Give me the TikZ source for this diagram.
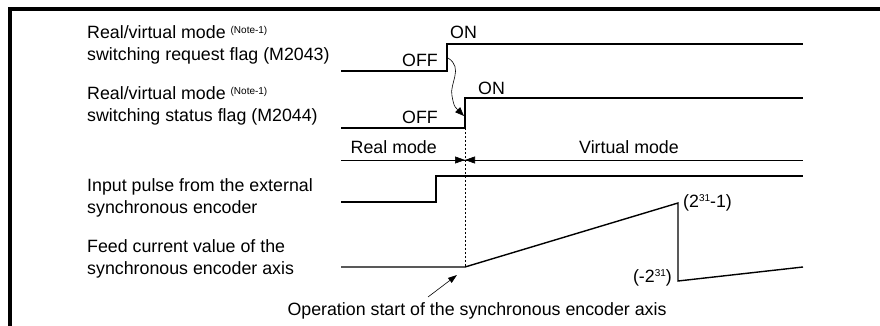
\documentclass[tikz,border=0pt]{standalone}
\usepackage{fontspec}
\setmainfont{Liberation Sans}
\usetikzlibrary{arrows.meta}
\newcommand{\notesup}{{\fontsize{10}{10}\selectfont\raisebox{5pt}{(Note-1)}}}
\newcommand{\smallsup}[1]{{\fontsize{10}{10}\selectfont\raisebox{6pt}{#1}}}
\begin{document}
\begin{tikzpicture}[x=1pt,y=-1pt,
  font=\fontsize{17.8}{22}\selectfont,
  sig/.style={line width=1.4pt},
  txt/.style={inner sep=0pt},
  lbl/.style={inner sep=0pt, anchor=west, align=left},
  tip/.style={-{Triangle[length=9pt,width=7pt]}}]
\useasboundingbox (0,0) rectangle (880,326);
% frame
\draw[line width=4pt] (880,9) -- (10,9) -- (10,326);
% left labels
\node[lbl] (l1) at (87,45) {Real/virtual mode \notesup\\switching request flag (M2043)};
\node[lbl] (l2) at (87,106) {Real/virtual mode \notesup\\switching status flag (M2044)};
\node[lbl] (l3) at (87,198) {Input pulse from the external\\synchronous encoder};
\node[lbl] (l4) at (87,259) {Feed current value of the\\synchronous encoder axis};
% signal 1
\coordinate (a0) at (341,71); \coordinate (a1) at (447,71);
\coordinate (a2) at (447,44); \coordinate (a3) at (803,44);
\draw[sig] (a0) -- (a1) -- (a2) -- (a3);
\node[txt, anchor=west] (on1) at (450,32) {ON};
\node[txt, anchor=east] (off1) at (438,60) {OFF};
% signal 2
\coordinate (b0) at (341,128); \coordinate (b1) at (465,128);
\coordinate (b2) at (465,98); \coordinate (b3) at (803,98);
\draw[sig] (b0) -- (b1) -- (b2) -- (b3);
\node[txt, anchor=west] (on2) at (478,88) {ON};
\node[txt, anchor=east] (off2) at (438,117) {OFF};
% causal curve
\coordinate (c0) at (448,58); \coordinate (c1) at (452,96); \coordinate (c2) at (464,116);
\draw[line width=0.6pt] (c0) .. controls (464,68) and (449,84) .. (c1);
\draw[line width=0.6pt, tip] (c1) .. controls (454,106) .. (c2);
% mode line
\coordinate (m0) at (341,160); \coordinate (m1) at (803,160);
\coordinate (mc) at (465,160);
\coordinate (ml) at (453,160); \coordinate (mr) at (477,160);
\draw[line width=0.6pt] (m0) -- (m1);
\draw[line width=0.6pt, -{Triangle[length=10pt,width=7pt]}] (ml) -- (mc);
\draw[line width=0.6pt, -{Triangle[length=10pt,width=7pt]}] (mr) -- (mc);
\node[txt, anchor=east] (real) at (437,147) {Real mode};
\node[txt] (virt) at (629,147) {Virtual mode};
% dashed
\coordinate (d0) at (465,128); \coordinate (d1) at (465,267);
\draw[line width=0.5pt, dash pattern=on 2pt off 2pt] (d0) -- (d1);
% signal 3
\coordinate (p0) at (341,202); \coordinate (p1) at (436,202);
\coordinate (p2) at (436,176); \coordinate (p3) at (803,176);
\draw[sig] (p0) -- (p1) -- (p2) -- (p3);
% signal 4
\coordinate (f0) at (341,267); \coordinate (f1) at (465,267);
\coordinate (f2) at (678,203); \coordinate (f3) at (678,281);
\coordinate (f4) at (803,267);
\draw[sig] (f0) -- (f1) -- (f2) -- (f3) -- (f4);
\node[txt, anchor=west] (max) at (683,203) {(2\smallsup{31}-1)};
\node[txt, anchor=east] (min) at (672,278) {(-2\smallsup{31})};
% operation start
\node[txt] (op) at (477,311) {Operation start of the synchronous encoder axis};
\coordinate (o0) at (428,297); \coordinate (o1) at (457,275);
\draw[line width=0.6pt, -{Triangle[length=9pt,width=6pt]}] (o0) -- (o1);
\end{tikzpicture}
\end{document}
